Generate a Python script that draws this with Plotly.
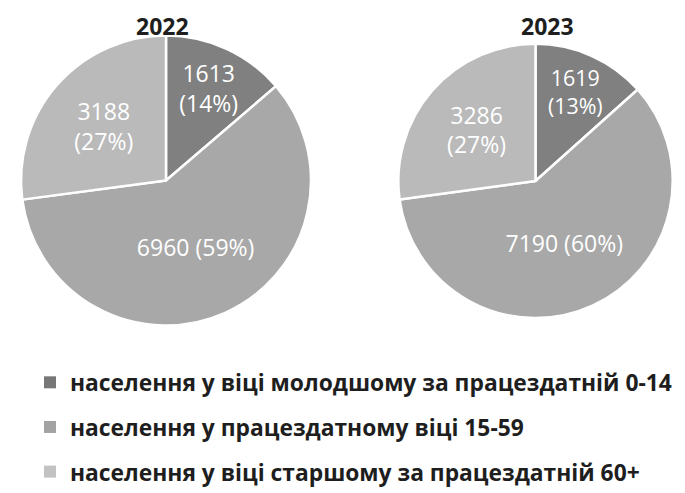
import plotly.graph_objects as go

categories = [
    "населення у віці молодшому за працездатній 0-14",
    "населення у працездатному віці 15-59",
    "населення у віці старшому за працездатній 60+",
]
years = ["2022", "2023"]
values_2022 = [1613, 6960, 3188]
values_2023 = [1619, 7190, 3286]
pct_2022 = [14, 59, 27]
pct_2023 = [13, 60, 27]

slice_colors = ["#808080", "#a8a8a8", "#bababa"]
legend_colors = ["#777777", "#a3a3a3", "#c2c2c2"]
FONT = "Open Sans"

# the page body keeps the browser's default 8px margin, so the figure is sized to fit
W, H = 677, 485


def slice_text(vals, pcts):
    out = []
    for i, (v, p) in enumerate(zip(vals, pcts)):
        sep = " " if i == 1 else "<br>"
        out.append(f"{v}{sep}({p}%)")
    return out


def px(x):
    return x / W


def py(y):
    return 1 - y / H


fig = go.Figure()
domains = [
    dict(x=[px(0), px(316)], y=[py(346), py(30)]),
    dict(x=[px(378), 1.0], y=[py(338), py(39)]),
]
for vals, pcts, dom in zip([values_2022, values_2023], [pct_2022, pct_2023], domains):
    fig.add_trace(go.Pie(
        labels=categories, values=vals, text=slice_text(vals, pcts),
        textinfo="text", sort=False, direction="clockwise", rotation=0,
        marker=dict(colors=slice_colors, line=dict(color="white", width=2.5)),
        textfont=dict(color="white", size=23, family=FONT),
        insidetextorientation="horizontal", textposition="inside",
        domain=dom, showlegend=False, hoverinfo="label+value+percent",
    ))

for i, (cat, col) in enumerate(zip(categories, legend_colors)):
    fig.add_trace(go.Scatter(
        x=[None], y=[None], mode="markers", name=cat, legendgroup=f"g{i}",
        marker=dict(symbol="square", size=11, color=col),
        showlegend=True,
    ))

for yr, cx in zip(years, [154, 539]):
    fig.add_annotation(
        text=f"<b>{yr}</b>", x=px(cx), y=1.0, xref="paper", yref="paper",
        showarrow=False, font=dict(size=23, family=FONT, color="#1e1e1e"),
        xanchor="center", yanchor="top",
    )

fig.update_layout(
    width=W, height=H, margin=dict(l=0, r=0, t=0, b=0),
    paper_bgcolor="white", plot_bgcolor="white",
    xaxis=dict(visible=False), yaxis=dict(visible=False),
    legend=dict(
        x=px(22), y=py(385), xanchor="left", yanchor="top",
        font=dict(size=22.8, family=FONT, color="#1e1e1e", weight="bold"),
        tracegroupgap=12, itemsizing="constant", bgcolor="rgba(0,0,0,0)",
    ),
    font=dict(family=FONT),
)

fig.write_html("out.html")
